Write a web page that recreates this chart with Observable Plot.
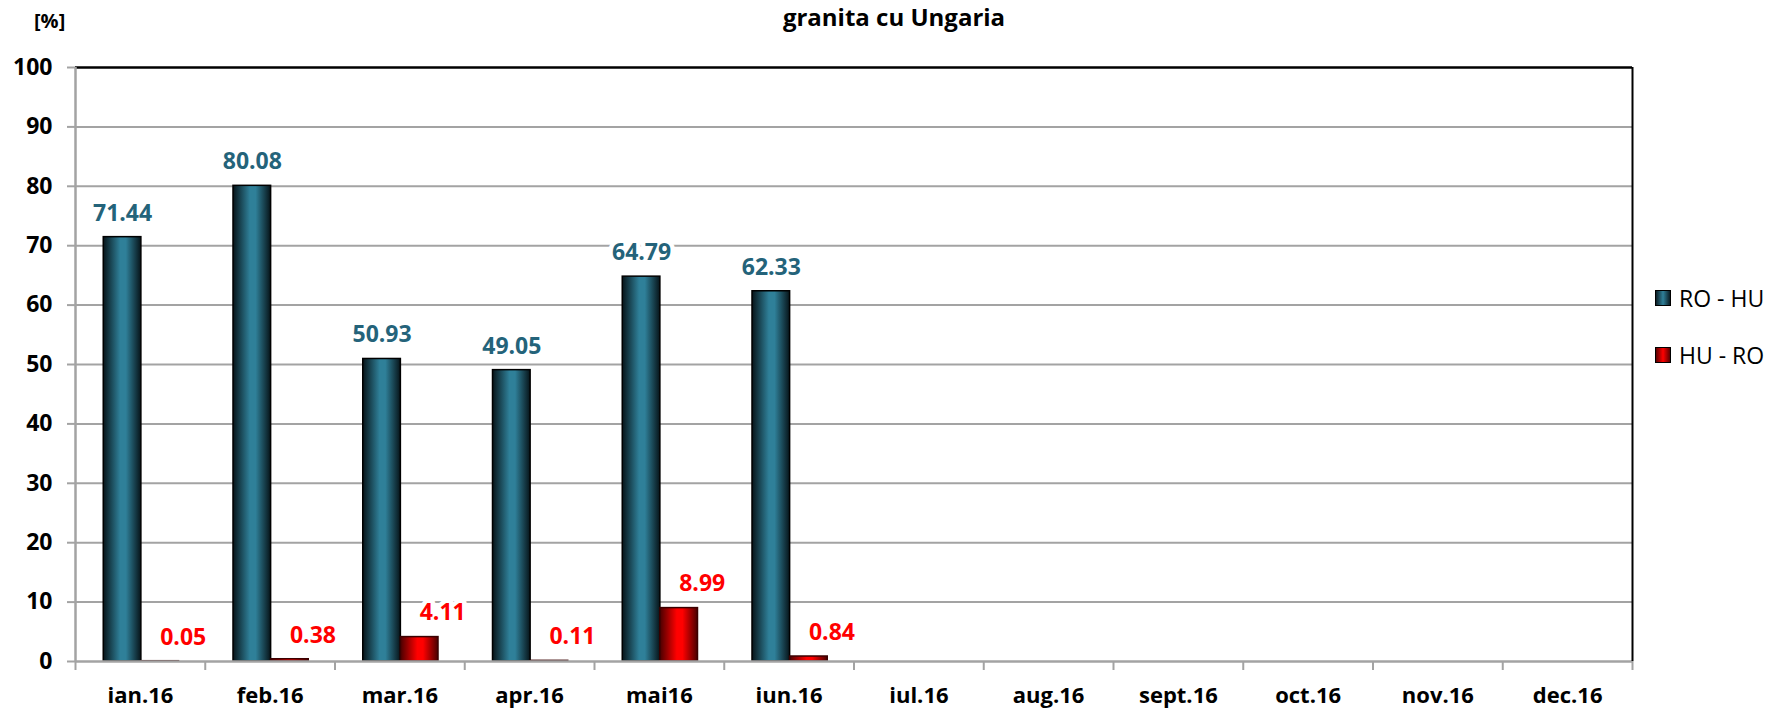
<!DOCTYPE html>
<html>
<head>
<meta charset="utf-8">
<script src="https://cdn.jsdelivr.net/npm/d3@7"></script>
<script src="https://cdn.jsdelivr.net/npm/@observablehq/plot@0.6"></script>
<style>
  html, body { margin: 0; padding: 0; background: white; }
  #wrap { position: relative; width: 1776px; height: 708px; overflow: hidden; font-family: "Open Sans", sans-serif; }
  #title { position: absolute; left: 0; width: 1776px; top: 0px; text-align: center; font-weight: 700; font-size: 24px; color: #000; padding-left: 12px; box-sizing: border-box; line-height: normal; }
  #unit { position: absolute; left: 34px; top: 7px; font-weight: 700; font-size: 20px; color: #000; }
  .leg { position: absolute; left: 1655px; display: flex; align-items: center; font-size: 23px; color: #000; }
  .sw { width: 14px; height: 14px; border: 1.5px solid #000; margin-right: 8px; }
</style>
</head>
<body>
<div id="wrap">
  <div id="chart"></div>
  <div id="title">granita cu Ungaria</div>
  <div id="unit">[%]</div>
  <div class="leg" style="top:282px"><div class="sw" style="background:linear-gradient(to right,#0b1d24,#2f8099,#0b1d24)"></div>RO - HU</div>
  <div class="leg" style="top:339px"><div class="sw" style="background:linear-gradient(to right,#5a0000,#ff0000,#5a0000)"></div>HU - RO</div>
</div>
<script>
const months = ["ian.16","feb.16","mar.16","apr.16","mai16","iun.16","iul.16","aug.16","sept.16","oct.16","nov.16","dec.16"];
const roHu = [71.44, 80.08, 50.93, 49.05, 64.79, 62.33];
const huRo = [0.05, 0.38, 4.11, 0.11, 8.99, 0.84];
const yTicks = [0,10,20,30,40,50,60,70,80,90,100];

const blue = roHu.map((v,i) => ({month: months[i], value: v}));
const red = huRo.map((v,i) => ({month: months[i], value: v}));

const W = 1776, H = 708, ml = 75, mr = 144, mt = 67, mb = 47;
const step = (W - ml - mr) / months.length;
const pInner = 0.42;
const bw = step * (1 - pInner);
const half = bw / 2;
const pxPerUnit = (H - mt - mb) / 100;
const tickUnits = 9 / pxPerUnit;

const chart = Plot.plot({
  width: W, height: H,
  marginLeft: ml, marginRight: mr, marginTop: mt, marginBottom: mb,
  style: {fontFamily: "Open Sans, sans-serif", fontSize: "22px", background: "white", overflow: "visible"},
  x: {domain: months, type: "band", paddingInner: pInner, paddingOuter: pInner/2, round: false},
  y: {domain: [0, 100]},
  marks: [
    Plot.ruleY(yTicks.filter(t => t > 0 && t < 100), {stroke: "#a3a3a3", strokeWidth: 2}),
    Plot.barY(blue, {x: "month", y: "value", insetRight: half, dx: 1, fill: "url(#gBlue)", stroke: "#000", strokeWidth: 1.5}),
    Plot.barY(red, {x: "month", y: "value", insetLeft: half, dx: 1, fill: "url(#gRed)", stroke: "#3a0000", strokeWidth: 1.5}),
    Plot.ruleY([0], {stroke: "#a3a3a3", strokeWidth: 2.5}),
    Plot.ruleY([100], {stroke: "#000", strokeWidth: 2.5}),
    Plot.ruleX([months[0]], {dx: -step/2, y1: 0, y2: 100, stroke: "#a3a3a3", strokeWidth: 2.5}),
    Plot.ruleX([months[months.length-1]], {dx: step/2, y1: 0, y2: 100, stroke: "#000", strokeWidth: 2}),
    Plot.ruleX(months, {x: d => d, dx: -step/2, y1: 0, y2: -tickUnits, stroke: "#a3a3a3", strokeWidth: 2}),
    Plot.ruleX([months[months.length-1]], {dx: step/2, y1: 0, y2: -tickUnits, stroke: "#a3a3a3", strokeWidth: 2}),
    Plot.axisY({ticks: yTicks, tickSize: 8, tickPadding: 15, stroke: "#a3a3a3", strokeWidth: 2, fill: "#000", fontWeight: "bold", fontSize: 23, label: null}),
    Plot.axisX({tickSize: 0, tickPadding: 26, fill: "#000", fontWeight: "bold", fontSize: 22, label: null}),
    Plot.text(blue, {x: "month", y: "value", dx: -bw/4 + 1, dy: -24, text: d => d.value.toFixed(2), fill: "#24637a", fontWeight: "bold", fontSize: 23, stroke: "white", strokeWidth: 9, paintOrder: "stroke"}),
    Plot.text(red, {x: "month", y: "value", dx: bw/4 + 24, dy: -24, text: d => d.value.toFixed(2), fill: "#ff0000", fontWeight: "bold", fontSize: 23, stroke: "white", strokeWidth: 9, paintOrder: "stroke"})
  ]
});

const ns = "http://www.w3.org/2000/svg";
const defs = document.createElementNS(ns, "defs");
function grad(id, edge, mid) {
  const g = document.createElementNS(ns, "linearGradient");
  g.setAttribute("id", id);
  g.setAttribute("x1", "0"); g.setAttribute("x2", "1"); g.setAttribute("y1", "0"); g.setAttribute("y2", "0");
  [[0, edge], [0.45, mid], [0.6, mid], [1, edge]].forEach(([o, c]) => {
    const s = document.createElementNS(ns, "stop");
    s.setAttribute("offset", o); s.setAttribute("stop-color", c);
    g.appendChild(s);
  });
  defs.appendChild(g);
}
grad("gBlue", "#071419", "#2f8099");
grad("gRed", "#4a0000", "#ff0000");
chart.insertBefore(defs, chart.firstChild);
document.getElementById("chart").appendChild(chart);
</script>
</body>
</html>
